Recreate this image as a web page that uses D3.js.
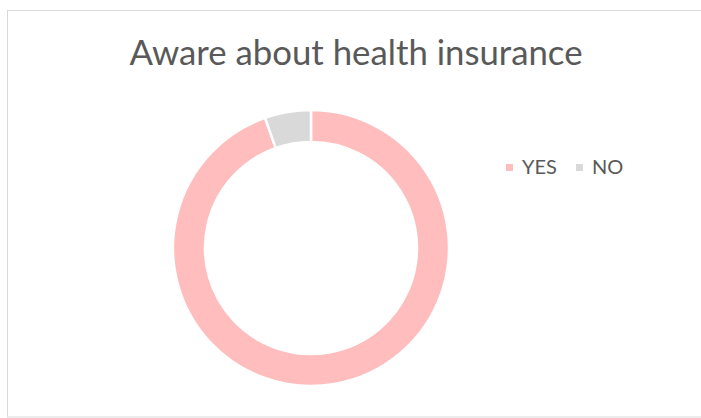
<!DOCTYPE html>
<html><head><meta charset="utf-8">
<script src="https://cdn.jsdelivr.net/npm/d3@7"></script>
<style>html,body{margin:0;padding:0;background:#fff;}</style>
</head><body>
<svg id="c" width="701" height="418"></svg>
<script>
const categories = ["YES", "NO"];
const values = [94.6, 5.4];
const colors = ["#FFBDBD", "#D9D9D9"];
const title = "Aware about health insurance";

const svg = d3.select("#c");
svg.append("rect").attr("x", 7.5).attr("y", 10.5).attr("width", 700).attr("height", 406.5)
  .attr("fill", "#fff").attr("stroke", "#D9D9D9").attr("stroke-width", 1);

const t = svg.append("text").attr("x", 356).attr("y", 65).attr("text-anchor", "middle")
  .attr("font-family", "Lato").attr("font-size", 32).attr("fill", "#595959").text(title);
const w = t.node().getComputedTextLength();
t.attr("font-size", 32 * 453 / w);

const data = categories.map((c, i) => ({cat: c, v: values[i], color: colors[i]}));
const pie = d3.pie().value(d => d.v).sort(null);
const arc = d3.arc().innerRadius(106).outerRadius(138);
const g = svg.append("g").attr("transform", "translate(311,248)");
g.selectAll("path").data(pie(data)).join("path")
  .attr("d", arc).attr("fill", d => d.data.color)
  .attr("stroke", "#fff").attr("stroke-width", 2.5);

const leg = svg.append("g");
const lx = [506, 576];
data.forEach((d, i) => {
  leg.append("rect").attr("x", lx[i]).attr("y", 164).attr("width", 7).attr("height", 7).attr("fill", d.color);
  const tt = leg.append("text").attr("x", lx[i] + 16).attr("y", 174).attr("font-family", "Lato")
    .attr("font-size", 20).attr("fill", "#595959").text(d.cat);
});
</script>
</body></html>
